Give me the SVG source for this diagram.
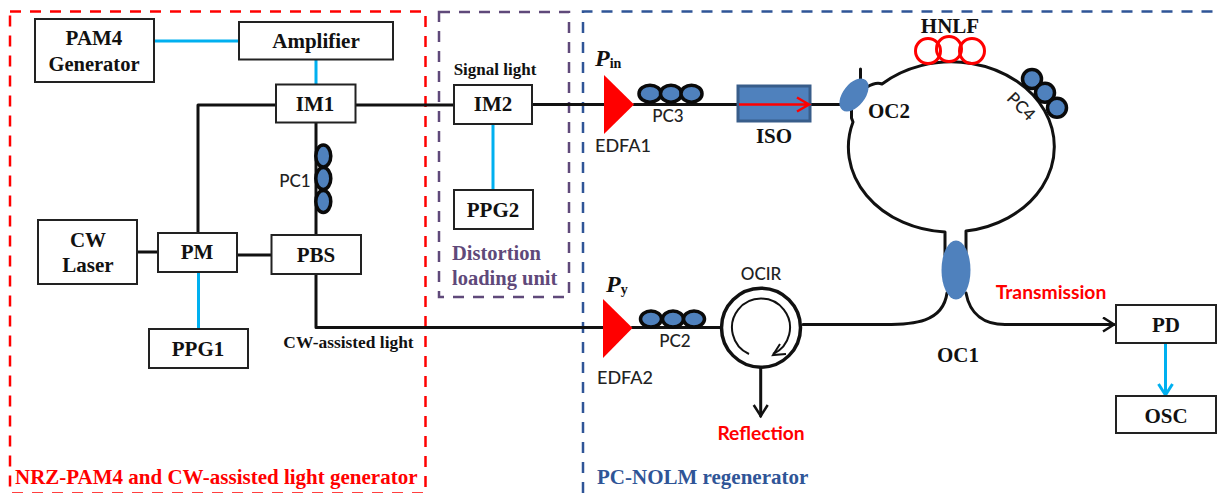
<svg xmlns="http://www.w3.org/2000/svg" width="1219" height="493" viewBox="0 0 1219 493">
<style>
.box{fill:#fff;stroke:#222;stroke-width:2}
.f{fill:none;stroke:#111;stroke-width:3;stroke-linecap:round;stroke-linejoin:round}
.e{fill:none;stroke:#00B0F0;stroke-width:3}
.pc{fill:#4F81BD;stroke:#0a0a0a;stroke-width:3.5}
.cp{fill:#4F81BD}
.s{font-family:"Liberation Serif",serif;font-weight:bold;fill:#111;text-anchor:middle}
.c{font-family:Lato,"Noto Sans",sans-serif;fill:#222;text-anchor:middle;font-weight:500}
.m{font-size:21px}
.r{fill:#f00}
</style>
<defs>
<marker id="ak" markerUnits="userSpaceOnUse" markerWidth="16" markerHeight="18" refX="13" refY="8" orient="auto"><path d="M2 1L13 8L2 15" fill="none" stroke="#111" stroke-width="2.5"/></marker>
<marker id="ab" markerUnits="userSpaceOnUse" markerWidth="16" markerHeight="18" refX="13" refY="8" orient="auto"><path d="M2 1L13 8L2 15" fill="none" stroke="#00B0F0" stroke-width="3"/></marker>
</defs>

<g id="regions" fill="none" stroke-width="2.5">
<rect x="10" y="11.5" width="415.5" height="482" stroke="#f00" stroke-dasharray="11 9"/>
<rect x="439" y="12" width="130" height="285" stroke="#5F497A" stroke-dasharray="11 9"/>
<path d="M583 493V11.5H1219" stroke="#2F5597" stroke-dasharray="11 9"/>
</g>

<g id="connectors">
<path class="e" d="M154 41H239M316 59V85M198.500 272V329M493 124V190"/>
<path class="e" d="M1165.500 343V395" marker-end="url(#ab)"/>
<path class="f" d="M276 105H198V233M355 105H454M532 104.500H604M634 104.500H738M810 104.500H842M316 122V235M137 252H158M237 255H271M316 274V327.500H603M632 327.500H722"/>
<path class="f" d="M803 324.500H880C915 325 943 322 947 293"/>
<path class="f" d="M966 293C970 315 985 324.500 1005 324.500H1114" marker-end="url(#ak)"/>
<path class="f" d="M760.700 367V416" marker-end="url(#ak)"/>
<path class="f" d="M860.500 69V80M851.500 108V118L853 122A103 85 0 0 0 945 232V255"/>
<path class="f" d="M966 255V231A103 85 0 1 0 882 84C877 82 872 84 867 87"/>
</g>

<g id="PAM4"><rect class="box" x="35" y="19" width="119" height="63"/><text class="s m" x="94" y="45">PAM4</text><text class="s" font-size="20.500" x="94" y="71">Generator</text></g>
<g id="Amplifier"><rect class="box" x="239" y="22" width="154" height="37.500"/><text class="s m" x="316" y="48">Amplifier</text></g>
<g id="IM1"><rect class="box" x="276" y="84.500" width="79.500" height="38"/><text class="s m" x="315" y="111">IM1</text></g>
<g id="IM2"><rect class="box" x="454" y="85" width="78" height="39"/><text class="s m" x="493" y="111">IM2</text></g>
<g id="PPG2"><rect class="box" x="454" y="190" width="79" height="39"/><text class="s m" x="493" y="217">PPG2</text></g>
<g id="CW"><rect class="box" x="38" y="220" width="99" height="64"/><text class="s m" x="88" y="247">CW</text><text class="s m" x="88" y="272">Laser</text></g>
<g id="PM"><rect class="box" x="158" y="233" width="79" height="39"/><text class="s m" x="197" y="259">PM</text></g>
<g id="PBS"><rect class="box" x="271.500" y="235" width="89.500" height="39"/><text class="s m" x="316" y="262">PBS</text></g>
<g id="PPG1"><rect class="box" x="149" y="329" width="99" height="39"/><text class="s m" x="198" y="356">PPG1</text></g>
<g id="PD"><rect class="box" x="1116" y="305" width="100" height="38"/><text class="s m" x="1166" y="332">PD</text></g>
<g id="OSC"><rect class="box" x="1116" y="396" width="100" height="37"/><text class="s m" x="1166" y="423">OSC</text></g>

<g id="PC1"><ellipse class="pc" cx="323.300" cy="156" rx="7.500" ry="11"/><ellipse class="pc" cx="323.300" cy="178.500" rx="7.500" ry="11"/><ellipse class="pc" cx="323.300" cy="201.500" rx="7.500" ry="11"/><text class="c" font-size="17" x="295" y="187">PC1</text></g>
<g id="PC2"><ellipse class="pc" cx="651" cy="319" rx="10.500" ry="8"/><ellipse class="pc" cx="673" cy="319" rx="10.500" ry="8"/><ellipse class="pc" cx="694" cy="319" rx="10.500" ry="8"/><text class="c" font-size="17" x="675" y="347">PC2</text></g>
<g id="PC3"><ellipse class="pc" cx="650" cy="93.700" rx="11" ry="8.500"/><ellipse class="pc" cx="671" cy="93.700" rx="10.500" ry="8.500"/><ellipse class="pc" cx="691.500" cy="93.700" rx="10.500" ry="8.500"/><text class="c" font-size="17" x="668" y="122">PC3</text></g>
<g id="PC4"><circle class="pc" cx="1032" cy="79" r="9.500"/><circle class="pc" cx="1045" cy="92.700" r="9.500"/><circle class="pc" cx="1057" cy="107.700" r="9.500"/><text class="c" font-size="17" transform="translate(1017 110.500) rotate(45)">PC4</text></g>

<g id="HNLF" fill="none" stroke="#f00" stroke-width="3"><circle cx="928" cy="51" r="12.500"/><circle cx="949" cy="49" r="12.500"/><circle cx="972" cy="51" r="12.500"/><text class="s m" stroke="none" x="950" y="33">HNLF</text></g>

<g id="EDFA1"><path class="r" d="M604 75V134L634 104.500Z"/><text class="c" font-size="18" x="623" y="152">EDFA1</text></g>
<g id="EDFA2"><path class="r" d="M603 299V358L632.500 328Z"/><text class="c" font-size="18" x="625" y="384">EDFA2</text></g>

<g id="ISO"><rect x="738" y="86" width="72" height="35" fill="#4F81BD" stroke="#385D8A" stroke-width="3"/><path d="M739 104.500H808M797 97.500L809 104.500L797 111.500" fill="none" stroke="#f00" stroke-width="2.500"/><text class="s m" x="774" y="143">ISO</text></g>

<g id="OC2"><ellipse class="cp" cx="854" cy="95" rx="11" ry="19" transform="rotate(38 854 95)"/><text class="s m" x="889" y="118">OC2</text></g>
<g id="OC1"><ellipse class="cp" cx="956" cy="270" rx="14.500" ry="29.500"/><text class="s m" x="958" y="362">OC1</text></g>

<g id="OCIR"><circle cx="761" cy="327.700" r="39.500" fill="#fff" stroke="#111" stroke-width="3.500"/><path d="M749 354A29 29 0 1 1 773 354" fill="none" stroke="#111" stroke-width="2"/><path d="M780 344L773 355L786 354" fill="none" stroke="#111" stroke-width="2"/><text class="c" font-size="17" x="761" y="280">OCIR</text></g>

<g id="labels">
<text class="s" font-size="17" x="495" y="75">Signal light</text>
<text class="s" font-size="17.400" x="348.500" y="348">CW-assisted light</text>
<text class="s" font-size="20.500" style="fill:#5F497A;text-anchor:start" x="452" y="260">Distortion</text>
<text class="s" font-size="20.500" style="fill:#5F497A;text-anchor:start" x="452" y="285">loading unit</text>
<text class="s" font-size="21" style="fill:#f00;text-anchor:start" x="15" y="484">NRZ-PAM4 and CW-assisted light generator</text>
<text class="s" font-size="21" style="fill:#2F5597;text-anchor:start" x="597" y="484">PC-NOLM regenerator</text>
<text class="c" font-size="19.300" style="fill:#f00;font-weight:700" x="1051" y="299">Transmission</text>
<text class="c" font-size="19.200" style="fill:#f00;font-weight:700" x="761" y="440">Reflection</text>
<text class="s" font-size="24" font-style="italic" style="text-anchor:start" x="595" y="66">P<tspan font-size="14" font-style="normal" dy="2">in</tspan></text>
<text class="s" font-size="24" font-style="italic" style="text-anchor:start" x="606" y="292">P<tspan font-size="14" font-style="normal" dy="2">y</tspan></text>
</g>
</svg>
